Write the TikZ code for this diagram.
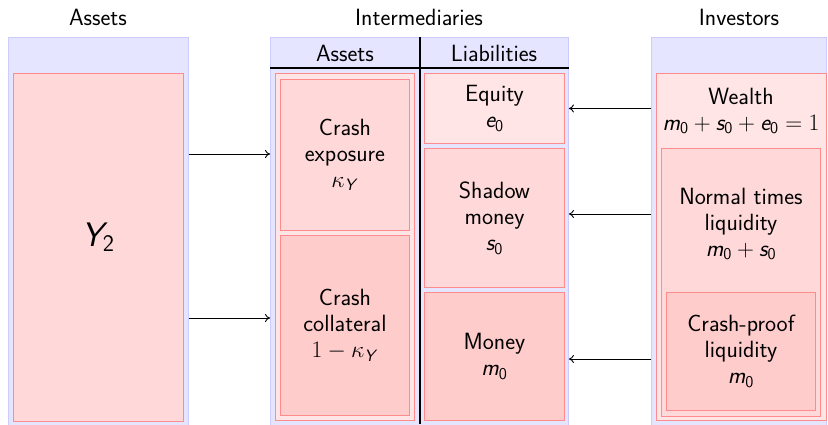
\RequirePackage{fix-cm}
\documentclass[tikz,border=0pt]{standalone}
\usetikzlibrary{arrows.meta}
\DeclareMathAlphabet{\mathsfit}{OT1}{cmss}{m}{sl}
\DeclareMathAlphabet{\mathsfup}{OT1}{cmss}{m}{n}
\newcommand\sv[1]{\mathsfit{#1}}
\newcommand\sn[1]{\mathsfup{#1}}
\begin{document}
\begin{tikzpicture}[x=1pt,y=-1pt,
  every node/.style={font=\sffamily\fontsize{23.5}{26}\selectfont},
  col/.style={draw=blue!20,fill=blue!10,line width=0.9pt,anchor=north west,inner sep=0pt},
  rbox/.style={draw=red!45,line width=0.9pt,anchor=north west,inner sep=0pt,align=center},
  r1/.style={rbox,fill=red!10},
  r2/.style={rbox,fill=red!15},
  r3/.style={rbox,fill=red!20},
  conn/.style={-{To[length=5pt,width=8pt]},line width=0.9pt},
  title/.style={inner sep=0pt}]
\useasboundingbox (0,0) rectangle (828,424);
% columns
\node[col,minimum width=180pt,minimum height=392pt] (leftcol) at (8,37) {};
\node[col,minimum width=298pt,minimum height=392pt] (midcol) at (270,37) {};
\node[col,minimum width=175pt,minimum height=392pt] (rightcol) at (651,37) {};
% titles
\node[title] (tA) at (98,17) {Assets};
\node[title] (tI) at (419,17) {Intermediaries};
\node[title] (tV) at (739,17) {Investors};
% middle header
\draw[line width=1.1pt] (midcol.west |- 0,68) -- (midcol.east |- 0,68);
\draw[line width=1.1pt] (420,37) -- (420,424);
\node[title] (hA) at (345,53) {Assets};
\node[title] (hL) at (494,53) {Liabilities};
% left
\node[r2,minimum width=170pt,minimum height=348pt] (y2) at (13,73) {};
\node[inner sep=0pt] (y2lbl) at (98,237) {\fontsize{34}{40}\selectfont$\sv{Y}_{\sn{2}}$};
% middle assets
\node[r1,minimum width=139pt,minimum height=347pt] (assets) at (275,73) {};
\node[r2,minimum width=129pt,minimum height=151pt] (expo) at (280,79) {Crash\\exposure\\$\kappa_{\sv{Y}}$};
\node[r3,minimum width=129pt,minimum height=180pt] (coll) at (280,235) {Crash\\collateral\\$1-\kappa_{\sv{Y}}$};
% liabilities
\node[r1,minimum width=140pt,minimum height=70pt] (equity) at (424,73) {Equity\\$\sv{e}_{\sn{0}}$};
\node[r2,minimum width=140pt,minimum height=139pt] (shadow) at (424,148) {Shadow\\money\\$\sv{s}_{\sn{0}}$};
\node[r3,minimum width=140pt,minimum height=128pt] (money) at (424,292) {Money\\$\sv{m}_{\sn{0}}$};
% investors
\node[r1,minimum width=170pt,minimum height=347pt] (wealthbox) at (656,73) {};
\node[align=center,inner sep=0pt] (wealth) at (741,111) {Wealth\\$\sv{m}_{\sn{0}}+\sv{s}_{\sn{0}}+\sv{e}_{\sn{0}}=1$};
\node[r2,minimum width=159pt,minimum height=268pt] (normal) at (661,148) {};
\node[align=center,inner sep=0pt] (normaltxt) at (741,224) {Normal times\\liquidity\\$\sv{m}_{\sn{0}}+\sv{s}_{\sn{0}}$};
\node[r3,minimum width=149pt,minimum height=118pt] (proof) at (666,292) {Crash-proof\\liquidity\\$\sv{m}_{\sn{0}}$};
% connectors
\coordinate (la) at (leftcol.east |- 0,154);
\coordinate (lb) at (leftcol.east |- 0,318);
\draw[conn] (la) -- (midcol.west |- la);
\draw[conn] (lb) -- (midcol.west |- lb);
\draw[conn] (rightcol.west |- equity) -- (midcol.east |- equity);
\coordinate (rb) at (rightcol.west |- 0,214);
\draw[conn] (rb) -- (midcol.east |- rb);
\coordinate (rc) at (rightcol.west |- 0,359);
\draw[conn] (rc) -- (midcol.east |- rc);
\end{tikzpicture}
\end{document}
